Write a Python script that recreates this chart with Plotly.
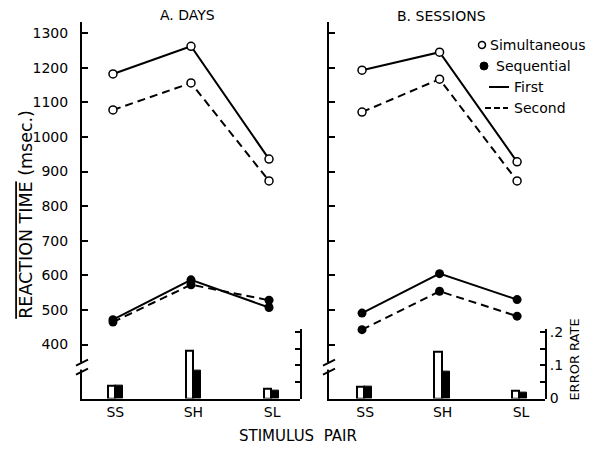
import plotly.graph_objects as go

W, H = 596, 453

# ---------------- data ----------------
categories = ["SS", "SH", "SL"]
cat_pos = [0, 1, 2]

# Reaction time (msec.)
days_sim_first = [1182, 1262, 936]
days_sim_second = [1078, 1156, 873]
days_seq_first = [472, 587, 507]
days_seq_second = [465, 573, 528]

sess_sim_first = [1193, 1245, 928]
sess_sim_second = [1072, 1167, 873]
sess_seq_first = [491, 605, 530]
sess_seq_second = [443, 554, 482]

# Error rates
days_err_sim = [0.04, 0.145, 0.03]
days_err_seq = [0.04, 0.085, 0.025]
sess_err_sim = [0.037, 0.14, 0.025]
sess_err_seq = [0.037, 0.08, 0.018]

rt_ticks = [400, 500, 600, 700, 800, 900, 1000, 1100, 1200, 1300]
err_ticks = [0, 0.05, 0.1, 0.15, 0.2]
err_ticktext = ["0", "", ".1", "", ".2"]

legend_names = ["Simultaneous", "Sequential", "First", "Second"]

# vertical calibration of the rendered page (target pixel -> layout pixel)
VA, VB = 0.9727, 4.9


def px(x):
    return x / W


def py(y):
    return 1 - ((y - VB) / VA) / H


FONT = "DejaVu Sans"
BLACK = "black"
DASH = "8px,5px"

fig = go.Figure()

panels = [
    dict(x="x", y="y", ye="y3", sim=(days_sim_first, days_sim_second),
         seq=(days_seq_first, days_seq_second), err=(days_err_sim, days_err_seq)),
    dict(x="x2", y="y2", ye="y4", sim=(sess_sim_first, sess_sim_second),
         seq=(sess_seq_first, sess_seq_second), err=(sess_err_sim, sess_err_seq)),
]

for p in panels:
    # error-rate bars
    fig.add_trace(go.Bar(x=cat_pos, y=p["err"][0], xaxis=p["x"], yaxis=p["ye"],
                         width=0.1, offset=-0.07, marker=dict(color="white", line=dict(color=BLACK, width=2)),
                         showlegend=False, hoverinfo="skip"))
    fig.add_trace(go.Bar(x=cat_pos, y=p["err"][1], xaxis=p["x"], yaxis=p["ye"],
                         width=0.1, offset=0.03, marker=dict(color=BLACK, line=dict(color=BLACK, width=1)),
                         showlegend=False, hoverinfo="skip"))
    # reaction-time lines
    for vals, dash in zip(p["seq"], ["solid", DASH]):
        fig.add_trace(go.Scatter(x=cat_pos, y=vals, xaxis=p["x"], yaxis=p["y"], mode="lines+markers",
                                 line=dict(color=BLACK, width=2, dash=dash),
                                 marker=dict(symbol="circle", size=9, color=BLACK),
                                 showlegend=False, cliponaxis=False))
    for vals, dash in zip(p["sim"], ["solid", DASH]):
        fig.add_trace(go.Scatter(x=cat_pos, y=vals, xaxis=p["x"], yaxis=p["y"], mode="lines+markers",
                                 line=dict(color=BLACK, width=2, dash=dash),
                                 marker=dict(symbol="circle", size=8, color="white",
                                             line=dict(color=BLACK, width=1.5)),
                                 showlegend=False, cliponaxis=False))

ydom = [py(399), py(22)]
edom = [py(399), py(329)]
rt_range = [244, 1332]
err_range = [0, 0.21]

common_x = dict(showline=True, linecolor=BLACK, linewidth=2, ticks="", showgrid=False, zeroline=False,
                tickfont=dict(family=FONT, size=14, color=BLACK), fixedrange=True)
common_y = dict(showline=True, linecolor=BLACK, linewidth=2, ticks="inside", ticklen=6, tickwidth=2,
                tickcolor=BLACK, showgrid=False, zeroline=False, tickvals=rt_ticks, range=rt_range,
                tickfont=dict(family=FONT, size=14, color=BLACK), domain=ydom)
common_e = dict(showline=True, linecolor=BLACK, linewidth=2, ticks="inside", ticklen=5, tickwidth=2,
                tickcolor=BLACK, showgrid=False, zeroline=False, tickvals=err_ticks, ticktext=err_ticktext,
                range=err_range, side="right", domain=edom,
                tickfont=dict(family=FONT, size=14, color=BLACK))

fig.update_layout(
    width=W, height=H,
    margin=dict(l=0, r=0, t=0, b=0),
    paper_bgcolor="white", plot_bgcolor="rgba(0,0,0,0)",
    font=dict(family=FONT, color=BLACK),
    xaxis=dict(common_x, domain=[px(82), px(300)], range=[-0.397, 2.397], anchor="y",
               tickvals=[0.03, 1.03, 2.04], ticktext=categories),
    xaxis2=dict(common_x, domain=[px(329), px(545)], range=[-0.426, 2.36], anchor="y2",
                tickvals=[0.04, 1.04, 2.05], ticktext=categories),
    yaxis=dict(common_y, anchor="x", ticklabelstandoff=9),
    yaxis2=dict(common_y, anchor="x2", showticklabels=False),
    yaxis3=dict(common_e, anchor="x", showticklabels=False),
    yaxis4=dict(common_e, anchor="x2"),
    showlegend=False,
    bargap=0,
)

ann = [
    dict(text="A. DAYS", x=px(187), y=py(15), size=14),
    dict(text="B. SESSIONS", x=px(441), y=py(16), size=14),
    dict(text="STIMULUS  PAIR", x=px(298), y=py(437), size=15),
]
for a in ann:
    fig.add_annotation(text=a["text"], x=a["x"], y=a["y"], xref="paper", yref="paper",
                       showarrow=False, font=dict(family=FONT, size=a["size"], color=BLACK),
                       xanchor="center", yanchor="middle")
fig.add_annotation(text='<span style="text-decoration:overline">REACTION TIME</span> (msec.)',
                   x=px(26), y=py(215), xref="paper", yref="paper", showarrow=False, textangle=-90,
                   font=dict(family=FONT, size=17.5, color=BLACK), xanchor="center", yanchor="middle")
fig.add_annotation(text="ERROR RATE", x=px(575), y=py(360), xref="paper", yref="paper", showarrow=False,
                   textangle=-90, font=dict(family=FONT, size=13, color=BLACK),
                   xanchor="center", yanchor="middle")

# legend (drawn as layout shapes + text)
leg_rows = [45, 66, 87, 108]
leg_text_x = [488, 494, 512, 512]
for name, yy, tx in zip(legend_names, leg_rows, leg_text_x):
    fig.add_annotation(text=name, x=px(tx), y=py(yy), xref="paper", yref="paper", showarrow=False,
                       font=dict(family=FONT, size=14, color=BLACK), xanchor="left", yanchor="middle")
fig.add_shape(type="circle", xref="paper", yref="paper", x0=px(478.5), x1=px(485.5),
              y0=py(48.5), y1=py(41.5), line=dict(color=BLACK, width=1.5), fillcolor="white")
fig.add_shape(type="circle", xref="paper", yref="paper", x0=px(480), x1=px(488),
              y0=py(70), y1=py(62), line=dict(color=BLACK, width=1), fillcolor=BLACK)
fig.add_shape(type="line", xref="paper", yref="paper", x0=px(489), x1=px(509),
              y0=py(87), y1=py(87), line=dict(color=BLACK, width=2))
fig.add_shape(type="line", xref="paper", yref="paper", x0=px(485), x1=px(508),
              y0=py(108), y1=py(108), line=dict(color=BLACK, width=2, dash="6px,3px"))

# axis breaks
for ax in (82, 329):
    fig.add_shape(type="rect", xref="paper", yref="paper", x0=px(ax - 3), x1=px(ax + 3),
                  y0=py(370), y1=py(363), fillcolor="white", line=dict(width=0), layer="above")
    for yb in (363, 372):
        fig.add_shape(type="line", xref="paper", yref="paper", x0=px(ax - 6), y0=py(yb + 3),
                      x1=px(ax + 6), y1=py(yb - 3), line=dict(color=BLACK, width=2), layer="above")

fig.write_html("out.html", config={"displayModeBar": False},
               post_script="document.body.style.margin='0';document.body.style.overflow='hidden';")
